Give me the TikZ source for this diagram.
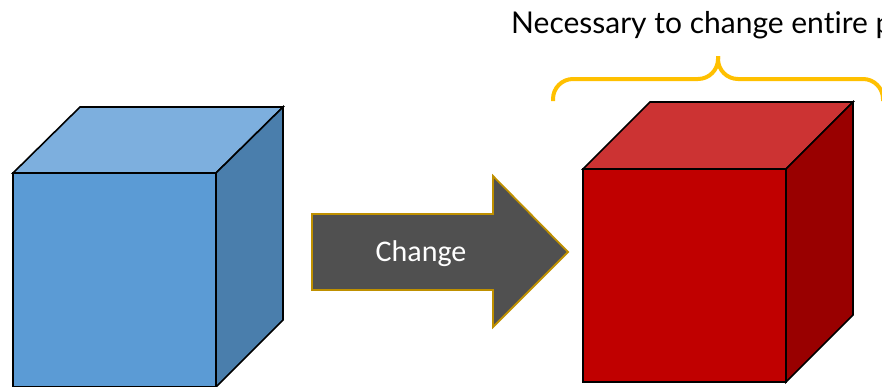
\documentclass[tikz,border=0pt]{standalone}
\usepackage{fontspec}
\setmainfont{Lato}[Ligatures={NoCommon,NoRare,NoDiscretionary}]
\newfontfamily\labelfont{Carlito}
\definecolor{bluefront}{HTML}{5B9BD5}
\definecolor{bluetop}{HTML}{7DAFDE}
\definecolor{blueside}{HTML}{4A7EAC}
\definecolor{redfront}{HTML}{C00000}
\definecolor{redtop}{HTML}{CC3333}
\definecolor{redside}{HTML}{990000}
\definecolor{arrowfill}{HTML}{505050}
\definecolor{arrowedge}{HTML}{BF9000}
\definecolor{bracecol}{HTML}{FFC000}
\tikzset{
  cubeedge/.style={draw=black, line width=1.6pt, line join=miter},
  arrowbody/.style={fill=arrowfill, draw=arrowedge, line width=1.8pt, line join=miter},
  bracestyle/.style={draw=bracecol, line width=4pt, line cap=butt, rounded corners=20pt},
}
\begin{document}
\begin{tikzpicture}[x=1pt,y=-1pt]
\useasboundingbox (0,0) rectangle (882,386);
\clip (0,0) rectangle (882,386);

% blue cube: top face, side face, front face
\coordinate (bA) at (13,173);   % front top left
\coordinate (bB) at (216,173);  % front top right
\coordinate (bC) at (216,387);  % front bottom right
\coordinate (bD) at (13,387);   % front bottom left
\coordinate (bE) at (80,107);   % back top left
\coordinate (bF) at (283,107);  % back top right
\coordinate (bG) at (283,320);  % back bottom right
\path[cubeedge, fill=bluetop] (bA) -- (bE) -- (bF) -- (bB) -- cycle;
\path[cubeedge, fill=blueside] (bB) -- (bF) -- (bG) -- (bC) -- cycle;
\path[cubeedge, fill=bluefront] (bA) -- (bB) -- (bC) -- (bD) -- cycle;

% red cube
\coordinate (rA) at (583,169);
\coordinate (rB) at (786,169);
\coordinate (rC) at (786,382);
\coordinate (rD) at (583,382);
\coordinate (rE) at (650,102);
\coordinate (rF) at (853,102);
\coordinate (rG) at (853,315);
\path[cubeedge, fill=redtop] (rA) -- (rE) -- (rF) -- (rB) -- cycle;
\path[cubeedge, fill=redside] (rB) -- (rF) -- (rG) -- (rC) -- cycle;
\path[cubeedge, fill=redfront] (rA) -- (rB) -- (rC) -- (rD) -- cycle;

% block arrow
\path[arrowbody] (312,214) -- (493,214) -- (493,176) -- (568,252)
  -- (493,327) -- (493,290) -- (312,290) -- cycle;
\node[text=white, font=\labelfont\fontsize{30}{36}\selectfont, inner sep=0pt]
  (change) at (421,254) {Change};

% curly brace over the red cube
\coordinate (brL) at (553,101);
\coordinate (brR) at (883,101);
\coordinate (brT) at (718,56);
\path[bracestyle] (brL) -- (553,79) -- (718,79) -- (brT);
\path[bracestyle] (brR) -- (883,79) -- (718,79) -- (brT);

\node[anchor=base west, inner sep=0pt, font=\fontsize{30}{36}\selectfont]
  (caption) at (511,33) {Necessary to change entire part};
\end{tikzpicture}
\end{document}
